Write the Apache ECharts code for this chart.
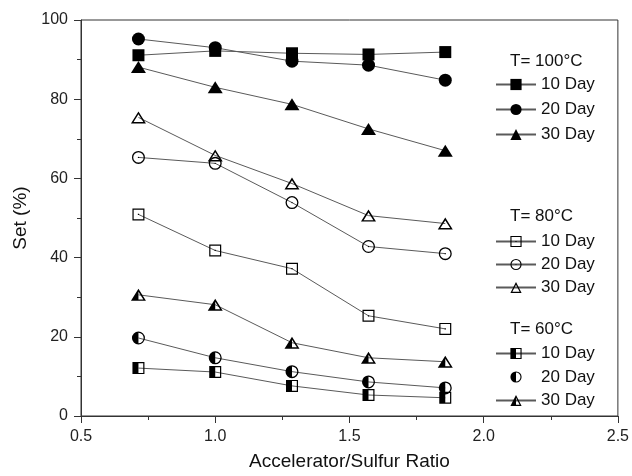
<!DOCTYPE html>
<html>
<head>
<meta charset="utf-8">
<script src="https://cdn.jsdelivr.net/npm/echarts@6/dist/echarts.min.js"></script>
<style>
  html, body { margin: 0; padding: 0; background: #fff; }
  #main { width: 632px; height: 476px; }
</style>
</head>
<body>
<div id="main"></div>
<script>
// accelerator/sulfur ratio
let ratio = [0.714, 1.0, 1.286, 1.571, 1.857]

// T = 100 C
let t100d10 = [91.1, 92.2, 91.6, 91.3, 91.9]
let t100d20 = [95.2, 93.0, 89.6, 88.6, 84.8]
let t100d30 = [88.1, 83.0, 78.7, 72.5, 67.0]
// T = 80 C
let t80d10 = [50.9, 41.8, 37.2, 25.3, 22.0]
let t80d20 = [65.3, 63.8, 53.9, 42.8, 41.0]
let t80d30 = [75.4, 65.8, 58.7, 50.6, 48.6]
// T = 60 C
let t60d10 = [12.1, 11.1, 7.6, 5.3, 4.6]
let t60d20 = [19.7, 14.7, 11.2, 8.6, 7.1]
let t60d30 = [30.6, 28.1, 18.5, 14.7, 13.7]

let groupTitles = ['T= 100°C', 'T= 80°C', 'T= 60°C']
let dayNames = ['10 Day', '20 Day', '30 Day']

// marker shapes (black fill, holes cut by winding direction)
const sqFull = 'path://M0 0H20V20H0Z'
const trFull = 'path://M10 0L20 16L0 16Z'
const sqOpen = 'path://M0 0H20V20H0Z M2 2V18H18V2Z M9 9H11V11H9Z'
const ciOpen = 'path://M10 0A10 10 0 1 1 10 20A10 10 0 1 1 10 0Z M10 2A8 8 0 1 0 10 18A8 8 0 1 0 10 2Z M10 9A1 1 0 1 1 10 11A1 1 0 1 1 10 9Z'
const trOpen = 'path://M10 0L20 16L0 16Z M10 3.9L3.5 14.1L16.5 14.1Z'
const sqHalf = 'path://M0 0H20V20H0Z M10 2V18H18V2Z'
const ciHalf = 'path://M10 0A10 10 0 1 1 10 20A10 10 0 1 1 10 0Z M10 18A8 8 0 0 0 10 2Z'
const trHalf = 'path://M10 0L20 16L0 16Z M10 3.9L10 14.1L16.5 14.1Z'

function zip(ys) {
    return ratio.map((x, i) => [x, ys[i]])
}

function mk(name, ys, symbol, size) {
    return {
        name: name,
        type: 'line',
        data: zip(ys),
        symbol: symbol,
        symbolSize: size,
        symbolKeepAspect: true,
        showAllSymbol: true,
        lineStyle: { color: '#5a5a5a', width: 1 },
        itemStyle: { color: '#000', borderWidth: 0 },
        emphasis: { disabled: true },
        z: 3
    }
}

let seriesList = [
    mk('10 Day@100', t100d10, sqFull, 12),
    mk('20 Day@100', t100d20, 'circle', 13),
    mk('30 Day@100', t100d30, trFull, 15),
    mk('10 Day@80', t80d10, sqOpen, 12),
    mk('20 Day@80', t80d20, ciOpen, 13),
    mk('30 Day@80', t80d30, trOpen, 15),
    mk('10 Day@60', t60d10, sqHalf, 12),
    mk('20 Day@60', t60d20, ciHalf, 13),
    mk('30 Day@60', t60d30, trHalf, 15)
]

const font = 'Liberation Sans, Arial, sans-serif'

function mkLegend(suffix, top, gap, noLine) {
    return {
        orient: 'vertical',
        left: 495,
        top: top,
        itemWidth: 40,
        itemHeight: 14,
        itemGap: gap,
        padding: 0,
        selectedMode: false,
        data: dayNames.map((d, i) => {
            let item = { name: d + '@' + suffix }
            if (noLine === i) item.lineStyle = { opacity: 0 }
            return item
        }),
        formatter: n => n.split('@')[0],
        textStyle: { fontFamily: font, fontSize: 17, lineHeight: 14, color: '#111', padding: [0, 0, 0, 0] }
    }
}

let titleY = [62, 217, 330]

let option = {
    animation: false,
    backgroundColor: '#fff',
    grid: {
        left: 81, right: 14, top: 20, bottom: 60,
        show: true, borderColor: '#333', borderWidth: 1, backgroundColor: 'transparent'
    },
    xAxis: {
        type: 'value',
        min: 0.5, max: 2.5, interval: 0.5,
        name: 'Accelerator/Sulfur Ratio',
        nameLocation: 'middle',
        nameGap: 36,
        nameTextStyle: { fontFamily: font, fontSize: 19, color: '#111' },
        axisLine: { show: true, lineStyle: { color: '#333', width: 1 } },
        axisTick: { show: true, length: 7, lineStyle: { color: '#333' } },
        minorTick: { show: true, splitNumber: 2, length: 4, lineStyle: { color: '#333' } },
        splitLine: { show: false },
        axisLabel: { fontFamily: font, fontSize: 16, color: '#222', margin: 13, formatter: v => v.toFixed(1) }
    },
    yAxis: {
        type: 'value',
        min: 0, max: 100, interval: 20,
        name: 'Set (%)',
        nameLocation: 'middle',
        nameGap: 48,
        nameTextStyle: { fontFamily: font, fontSize: 19, color: '#111' },
        axisLine: { show: true, lineStyle: { color: '#333', width: 1 } },
        axisTick: { show: true, length: 7, lineStyle: { color: '#333' } },
        minorTick: { show: true, splitNumber: 2, length: 4, lineStyle: { color: '#333' } },
        splitLine: { show: false },
        axisLabel: { fontFamily: font, fontSize: 16, color: '#222', margin: 13 }
    },
    legend: [
        mkLegend('100', 76, 8),
        mkLegend('80', 233, 6),
        mkLegend('60', 345, 6.5, 1)
    ],
    graphic: groupTitles.map((t, i) => ({
        type: 'text',
        left: 510,
        top: titleY[i] - 9,
        style: { text: t, fontFamily: font, fontSize: 17, fill: '#111' }
    })),
    series: seriesList
}

let myChart = echarts.init(document.getElementById('main'))
myChart.setOption(option)
</script>
</body>
</html>
